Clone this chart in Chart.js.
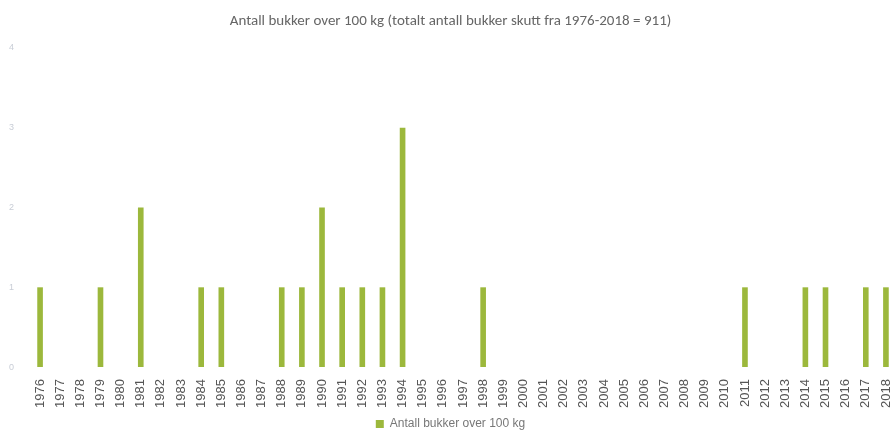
<!DOCTYPE html>
<html>
<head>
<meta charset="utf-8">
<script src="https://cdn.jsdelivr.net/npm/chart.js@4"></script>
<style>
  html, body { margin: 0; padding: 0; background: #fff; }
  #wrap { width: 896px; height: 437px; }
</style>
</head>
<body>
<div id="wrap"><canvas id="c"></canvas></div>
<script>
// years 1976 - 2018
var years = [];
for (var y = 1976; y <= 2018; y++) years.push(String(y));

// number of bucks over 100 kg per year
var bukker = [1, 0, 0, 1, 0, 2, 0, 0, 1, 1, 0, 0, 1, 1, 2, 1, 1, 1, 3, 0,
              0, 0, 1, 0, 0, 0, 0, 0, 0, 0, 0, 0, 0, 0, 0, 1, 0, 0, 1, 1,
              0, 1, 1];

var yTicks = [0, 1, 2, 3, 4];

var chart = new Chart('c', {
  type: 'bar',
  data: {
    labels: years,
    datasets: [{
      label: 'Antall bukker over 100 kg',
      data: bukker,
      backgroundColor: '#9cb83c',
      barPercentage: 0.28,
      categoryPercentage: 1
    }]
  },
  options: {
    responsive: true,
    maintainAspectRatio: false,
    animation: false,
    layout: { padding: { left: 4, right: -1, top: 6, bottom: -3 } },
    plugins: {
      title: {
        display: true,
        text: 'Antall bukker over 100 kg (totalt antall bukker skutt fra 1976-2018 = 911)',
        color: '#666',
        font: { family: 'Calibri, Carlito, "Liberation Sans", sans-serif', size: 15, weight: 'normal' },
        padding: { top: 6, bottom: 18 }
      },
      legend: {
        position: 'bottom',
        labels: {
          color: '#777',
          boxWidth: 8,
          boxHeight: 8,
          font: { family: '"Liberation Sans", sans-serif', size: 12 },
          padding: 6
        }
      },
      tooltip: { enabled: false }
    },
    scales: {
      x: {
        afterFit: function (axis) { axis.paddingRight = 0; axis.paddingLeft = 0; },
        grid: { display: false },
        border: { display: false },
        ticks: {
          color: '#555',
          minRotation: 90,
          maxRotation: 90,
          autoSkip: false,
          padding: 4,
          font: { family: '"Liberation Sans", sans-serif', size: 13 }
        }
      },
      y: {
        min: 0,
        max: 4,
        afterBuildTicks: function (axis) {
          axis.ticks = yTicks.map(function (v) { return { value: v }; });
        },
        afterFit: function (axis) { axis.width = 26; },
        grid: { display: false },
        border: { display: false },
        ticks: {
          color: '#c8cdd6',
          padding: 8,
          font: { family: '"Liberation Sans", sans-serif', size: 9 }
        }
      }
    }
  }
});
</script>
</body>
</html>
